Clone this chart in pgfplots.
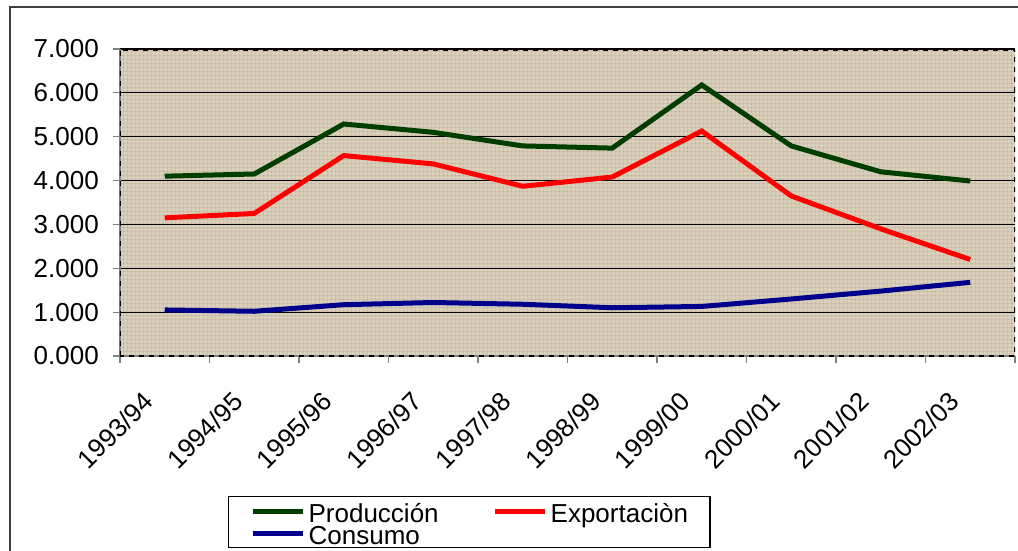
\documentclass[border=0pt]{standalone}
\usepackage{pgfplots}
\pgfplotsset{compat=1.18}
\usepackage{fontspec}
\setmainfont{Liberation Sans}
\usetikzlibrary{patterns.meta}

\definecolor{bgtan}{RGB}{218,207,187}
\definecolor{texture}{RGB}{194,182,160}
\definecolor{prodgreen}{RGB}{0,62,0}
\definecolor{consblue}{RGB}{0,0,140}

\begin{document}
\begin{tikzpicture}
\path[use as bounding box] (0,0) rectangle (1018pt,550pt);
\draw[line width=1.5pt, black!75] (10pt,-10pt) rectangle (1030pt,543pt);
\begin{axis}[
  at={(120pt,194pt)}, anchor=south west,
  scale only axis, width=895pt, height=307pt,
  xmin=-0.5, xmax=9.5, ymin=0, ymax=7,
  axis lines*=left,
  axis line style={black!50, line width=1.2pt},
  tick align=outside,
  xtick={0,...,9},
  xticklabels={1993/94,1994/95,1995/96,1996/97,1997/98,1998/99,1999/00,2000/01,2001/02,2002/03},
  minor xtick={-0.5,0.5,...,9.5},
  major x tick style={draw=none},
  minor x tick style={black!50, line width=1.2pt},
  minor tick length=7pt,
  major tick length=7pt,
  ytick={0,...,7},
  yticklabels={0.000,1.000,2.000,3.000,4.000,5.000,6.000,7.000},
  y tick style={black!50, line width=1.2pt},
  ymajorgrids,
  major grid style={black, line width=1.2pt},
  ticklabel style={font=\fontsize{26}{26}\selectfont},
  yticklabel style={inner sep=0pt, xshift=-14pt},
  xticklabel style={inner sep=0pt, xshift=-23pt, yshift=-27pt, rotate=45, anchor=north east},
  axis background/.style={fill=bgtan, postaction={pattern={Hatch[distance=4pt, line width=0.8pt]}, pattern color=texture}},
  legend columns=2,
  legend image code/.code={\draw[#1, line width=5pt] (0pt,0pt) -- (50pt,0pt);},
  legend style={at={(axis description cs:0.1207,-0.456)}, anchor=north west,
    draw=black, line width=1.2pt, inner xsep=22pt, inner ysep=3.5pt,
    font=\fontsize{26}{26}\selectfont,
    nodes={inner sep=0pt, text height=22pt, text depth=0pt, anchor=west},
    /tikz/every odd column/.append style={column sep=3pt},
    /tikz/every even column/.append style={column sep=54pt},
    row sep=0pt},
]
\addplot[prodgreen, line width=5pt] coordinates {(0,4.10) (1,4.15) (2,5.29) (3,5.10) (4,4.79) (5,4.74) (6,6.18) (7,4.79) (8,4.20) (9,3.99)};
\addlegendentry{Producción}
\addplot[red, line width=5pt] coordinates {(0,3.15) (1,3.25) (2,4.57) (3,4.38) (4,3.87) (5,4.08) (6,5.13) (7,3.65) (8,2.90) (9,2.20)};
\addlegendentry{Exportaciòn}
\addplot[consblue, line width=5pt] coordinates {(0,1.05) (1,1.02) (2,1.17) (3,1.22) (4,1.18) (5,1.10) (6,1.13) (7,1.30) (8,1.48) (9,1.68)};
\addlegendentry{Consumo}
\draw[black, line width=3pt, dash pattern=on 5pt off 5pt] (rel axis cs:0,0) rectangle (rel axis cs:1,1);
\end{axis}
\end{tikzpicture}
\end{document}
